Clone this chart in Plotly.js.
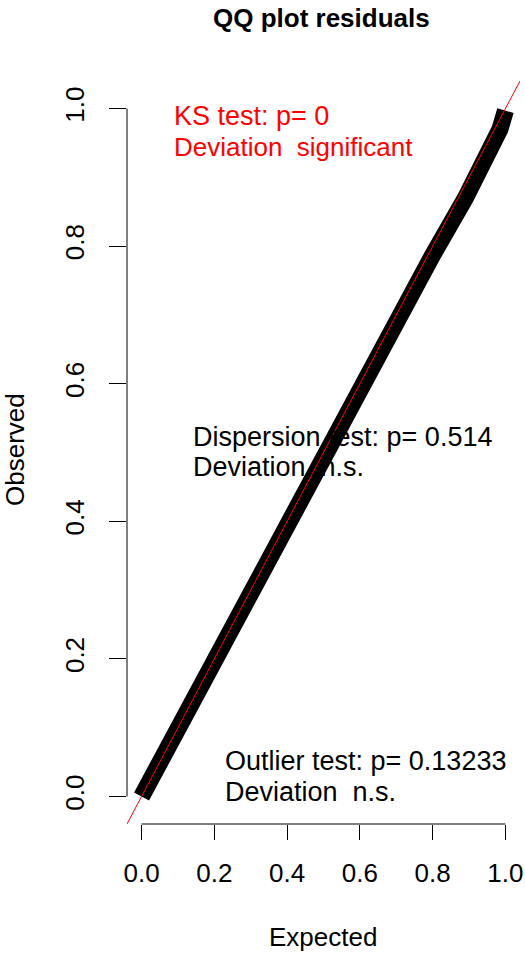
<!DOCTYPE html>
<html>
<head>
<meta charset="utf-8">
<script src="https://cdn.plot.ly/plotly-3.0.1.min.js"></script>
<style>
html,body{margin:0;padding:0;background:#fff;}
#chart{width:525px;height:953px;}
</style>
</head>
<body>
<div id="chart"></div>
<script>
// Centre line of the QQ point band
var expected = [0.00, 0.10, 0.20, 0.30, 0.40, 0.50, 0.60, 0.70, 0.80, 0.89, 0.96, 0.985, 1.00];
var observed = [0.00, 0.10, 0.20, 0.30, 0.40, 0.50, 0.60, 0.695, 0.787, 0.87, 0.942, 0.97, 0.997];
// 1:1 reference line
var refLine = [-0.04, 1.04];
var tickVals = [0, 0.2, 0.4, 0.6, 0.8, 1.0];
var tickText = ["0.0", "0.2", "0.4", "0.6", "0.8", "1.0"];
var ksText = ["KS test: p= 0", "Deviation \u00a0significant"];
var dispText = ["Dispersion test: p= 0.514", "Deviation \u00a0n.s."];
var outText = ["Outlier test: p= 0.13233", "Deviation \u00a0n.s."];

var W = 525, H = 953;
var L = 127, R = 5, T = 81, B = 129;
var PW = W - L - R, PH = H - T - B;
function px(x) { return (x - L) / PW; }
function py(y) { return (H - B - y) / PH; }

var FONT = "Liberation Sans, Arial, sans-serif";

var traces = [
  {x: expected, y: observed, mode: "lines", type: "scatter",
   line: {color: "#000000", width: 17}, hoverinfo: "skip", showlegend: false},
  {x: refLine, y: refLine, mode: "lines", type: "scatter",
   line: {color: "#ff0000", width: 1}, hoverinfo: "skip", showlegend: false}
];

function ann(text, x, y, color, opts) {
  var a = {text: text, xref: "paper", yref: "paper", x: px(x), y: py(y),
    xanchor: "left", yanchor: "middle", showarrow: false,
    font: {family: FONT, size: 27, color: color}};
  if (opts) for (var k in opts) a[k] = opts[k];
  return a;
}

var annotations = [
  ann(ksText[0], 172, 115.7, "#ff0000"),
  ann(ksText[1], 172, 147.4, "#ff0000", {font: {family: FONT, size: 26, color: "#ff0000"}}),
  ann(dispText[0], 191, 437.4, "#000000"),
  ann(dispText[1], 191, 467.4, "#000000"),
  ann(outText[0], 223, 760.7, "#000000"),
  ann(outText[1], 223, 792.4, "#000000"),
  ann("<b>QQ plot residuals</b>", 321, 18.5, "#000000", {xanchor: "center", font: {family: FONT, size: 26, color: "#000000"}}),
  ann("Expected", 323, 936.5, "#000000", {xanchor: "center", font: {family: FONT, size: 26, color: "#000000"}}),
  ann("Observed", 15, 450, "#000000", {xanchor: "center", textangle: -90, font: {family: FONT, size: 26, color: "#000000"}})
];

var shapes = [
  {type: "line", xref: "x", yref: "paper", x0: 0, x1: 1, y0: 0, y1: 0,
   line: {color: "#000000", width: 1}},
  {type: "line", xref: "paper", yref: "y", x0: 0, x1: 0, y0: 0, y1: 1,
   line: {color: "#000000", width: 1}}
];

var axisCommon = {
  range: [-0.04, 1.04], showgrid: false, zeroline: false, showline: false,
  ticks: "outside", tickcolor: "#000000", tickwidth: 1,
  tickvals: tickVals, ticktext: tickText,
  tickfont: {family: FONT, size: 26, color: "#000000"},
  fixedrange: true
};

var layout = {
  width: W, height: H,
  margin: {l: L, r: R, t: T, b: B, pad: 0},
  paper_bgcolor: "#ffffff", plot_bgcolor: "#ffffff",
  showlegend: false,
  xaxis: Object.assign({}, axisCommon, {ticklen: 15, ticklabelstandoff: 11}),
  yaxis: Object.assign({}, axisCommon, {ticklen: 17, tickangle: -90, ticklabelstandoff: 15}),
  shapes: shapes,
  annotations: annotations
};

Plotly.newPlot("chart", traces, layout, {displayModeBar: false, staticPlot: true});
</script>
</body>
</html>
